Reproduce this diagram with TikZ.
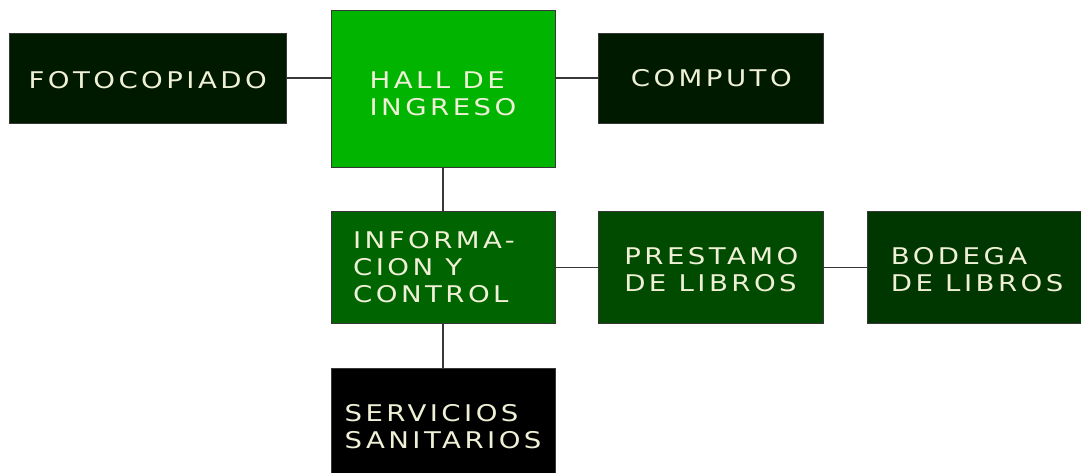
\documentclass[tikz,border=0pt]{standalone}
\usepackage{fontspec}
\usepackage{tikz}
\usetikzlibrary{positioning}

\newfontfamily\roomfont{DejaVu Sans}[FakeStretch=1.2, LetterSpace=15]

\definecolor{roomtext}{RGB}{240,240,215}
\definecolor{edgegray}{RGB}{55,55,55}
\definecolor{darkroom}{RGB}{0,26,0}
\definecolor{hallgreen}{RGB}{0,180,0}
\definecolor{infogreen}{RGB}{0,100,0}
\definecolor{loangreen}{RGB}{0,75,0}
\definecolor{storegreen}{RGB}{0,55,0}

\begin{document}
\begin{tikzpicture}[x=1pt, y=1pt, node distance=44pt,
    room/.style={rectangle, draw=edgegray, line width=0.8pt, inner sep=0pt},
    roomlabel/.style={text=roomtext, font=\roomfont\fontsize{23}{27}\selectfont,
        align=left, inner sep=0pt, yshift=-2pt},
    link/.style={draw=edgegray, line width=1.3pt}]
    \useasboundingbox (0,0) rectangle (1081,-472);

    % Nodes {hall, foto, computo, info, prestamo, bodega, sanitarios}
    \node [room, fill=hallgreen, minimum width=224pt, minimum height=157pt,
           label={[roomlabel, yshift=-3pt]center:HALL DE\\INGRESO}] (hall) at (443,-88.5) {};
    \node [room, fill=darkroom, minimum width=277pt, minimum height=90pt,
           label={[roomlabel]center:FOTOCOPIADO}] (foto) [left=of hall, yshift=10.5pt] {};
    \node [room, fill=darkroom, minimum width=225pt, minimum height=90pt,
           label={[roomlabel, yshift=2pt]center:COMPUTO}] (computo) [right=43pt of hall, yshift=10.5pt] {};
    \node [room, fill=infogreen, minimum width=224pt, minimum height=112pt,
           label={[roomlabel, xshift=-9pt, yshift=3pt]center:INFORMA-\\CION Y\\CONTROL}] (info) [below=of hall] {};
    \node [room, fill=loangreen, minimum width=225pt, minimum height=112pt,
           label={[roomlabel]center:PRESTAMO\\DE LIBROS}] (prestamo) [right=43pt of info] {};
    \node [room, fill=storegreen, minimum width=225pt, minimum height=112pt,
           label={[roomlabel, xshift=-3pt]center:BODEGA\\DE LIBROS}] (bodega) [right=43pt of prestamo] {};
    \node [room, fill=black, minimum width=224pt, minimum height=112pt,
           label={[roomlabel]center:SERVICIOS\\SANITARIOS}] (sanitarios) [below=of info] {};

    % Paths
    \path [link] (foto.east)     edge (foto.east -| hall.west);
    \path [link] (hall.east |- computo.west) edge (computo.west);
    \path [link] (hall)          edge (info);
    \path [link] (info)          edge (prestamo);
    \path [link] (prestamo)      edge (bodega);
    \path [link] (info)          edge (sanitarios);

\end{tikzpicture}
\end{document}
